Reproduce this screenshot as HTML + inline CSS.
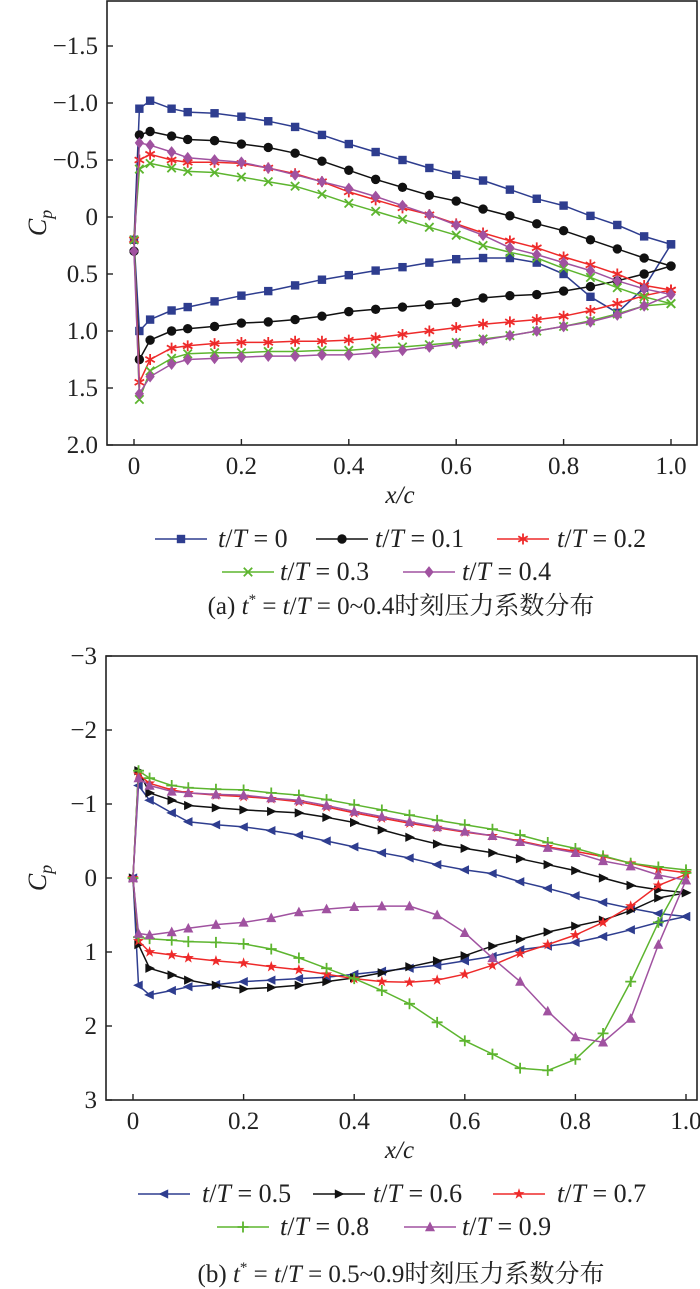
<!DOCTYPE html>
<html><head><meta charset="utf-8">
<style>
body{margin:0;background:#fff;}
svg{display:block;}
text,tspan{font-family:"Liberation Serif","Times New Roman","Noto Serif CJK SC",serif;}
</style></head>
<body>
<svg id="chart" width="700" height="1289" viewBox="0 0 700 1289" xmlns="http://www.w3.org/2000/svg">
<g id="pa"></g>
<g id="pb"></g>
</svg>
<script>
const xs = [0.01,0.03,0.07,0.1,0.15,0.2,0.25,0.3,0.35,0.4,0.45,0.5,0.55,0.6,0.65,0.7,0.75,0.8,0.85,0.9,0.95,1.0];
const xTicks = [0,0.2,0.4,0.6,0.8,1.0];
const xTickLabels = ["0","0.2","0.4","0.6","0.8","1.0"];
const yTicksA = [-1.5,-1.0,-0.5,0,0.5,1.0,1.5,2.0];
const yTickLabelsA = ["\u22121.5","\u22121.0","\u22120.5","0","0.5","1.0","1.5","2.0"];
const yTicksB = [-3,-2,-1,0,1,2,3];
const yTickLabelsB = ["\u22123","\u22122","\u22121","0","1","2","3"];
const namesA = ["t/T = 0","t/T = 0.1","t/T = 0.2","t/T = 0.3","t/T = 0.4"];
const namesB = ["t/T = 0.5","t/T = 0.6","t/T = 0.7","t/T = 0.8","t/T = 0.9"];
// panel a
const leA = [0.2,0.3,0.2,0.2,0.3];
const up0 = [-0.95,-1.02,-0.95,-0.92,-0.91,-0.88,-0.84,-0.79,-0.72,-0.64,-0.57,-0.5,-0.43,-0.37,-0.32,-0.24,-0.16,-0.1,-0.01,0.07,0.17,0.24];
const lo0 = [1.0,0.9,0.82,0.79,0.74,0.69,0.65,0.6,0.55,0.51,0.47,0.44,0.4,0.37,0.36,0.36,0.4,0.5,0.7,0.84,0.62,0.24];
const up1 = [-0.72,-0.75,-0.71,-0.68,-0.67,-0.64,-0.61,-0.56,-0.49,-0.41,-0.33,-0.26,-0.19,-0.14,-0.07,-0.01,0.06,0.12,0.2,0.28,0.36,0.43];
const lo1 = [1.25,1.08,1.0,0.98,0.96,0.93,0.92,0.9,0.87,0.83,0.81,0.79,0.77,0.75,0.71,0.69,0.68,0.65,0.61,0.56,0.5,0.43];
const up2 = [-0.5,-0.55,-0.5,-0.48,-0.48,-0.47,-0.43,-0.38,-0.31,-0.22,-0.15,-0.08,-0.02,0.06,0.14,0.21,0.27,0.35,0.42,0.5,0.6,0.64];
const lo2 = [1.45,1.25,1.15,1.13,1.11,1.1,1.1,1.09,1.09,1.08,1.06,1.03,1.0,0.97,0.94,0.92,0.9,0.87,0.82,0.76,0.69,0.64];
const up3 = [-0.42,-0.47,-0.43,-0.4,-0.39,-0.35,-0.31,-0.27,-0.2,-0.12,-0.05,0.02,0.09,0.16,0.25,0.31,0.36,0.45,0.53,0.62,0.7,0.76];
const lo3 = [1.6,1.35,1.24,1.2,1.19,1.19,1.18,1.18,1.17,1.17,1.15,1.14,1.12,1.1,1.07,1.04,1.0,0.96,0.91,0.85,0.78,0.76];
const up4 = [-0.65,-0.63,-0.57,-0.52,-0.5,-0.48,-0.43,-0.37,-0.31,-0.25,-0.18,-0.1,-0.02,0.07,0.16,0.27,0.33,0.4,0.47,0.56,0.63,0.68];
const lo4 = [1.55,1.4,1.29,1.25,1.24,1.23,1.22,1.22,1.21,1.21,1.19,1.17,1.14,1.11,1.08,1.04,1.0,0.96,0.92,0.86,0.78,0.68];
// panel b
const leB = [0.0,0.0,0.0,0.0,0.0];
const up5 = [-1.25,-1.05,-0.88,-0.76,-0.72,-0.69,-0.64,-0.58,-0.5,-0.42,-0.34,-0.27,-0.18,-0.11,-0.06,0.05,0.14,0.24,0.33,0.41,0.48,0.52];
const lo5 = [1.45,1.58,1.52,1.47,1.44,1.4,1.38,1.36,1.34,1.3,1.26,1.22,1.18,1.12,1.06,0.97,0.92,0.87,0.79,0.7,0.6,0.52];
const up6 = [-1.45,-1.15,-1.05,-0.98,-0.95,-0.92,-0.9,-0.88,-0.82,-0.75,-0.65,-0.55,-0.46,-0.4,-0.34,-0.26,-0.18,-0.1,0.0,0.1,0.16,0.2];
const lo6 = [0.9,1.22,1.31,1.38,1.45,1.5,1.48,1.45,1.4,1.35,1.28,1.2,1.12,1.05,0.92,0.83,0.73,0.65,0.57,0.44,0.27,0.2];
const up7 = [-1.4,-1.28,-1.19,-1.15,-1.12,-1.1,-1.07,-1.03,-0.96,-0.88,-0.81,-0.74,-0.68,-0.62,-0.57,-0.5,-0.42,-0.36,-0.29,-0.2,-0.12,-0.07];
const lo7 = [0.85,1.0,1.04,1.08,1.12,1.15,1.2,1.24,1.3,1.36,1.4,1.41,1.38,1.3,1.18,1.02,0.9,0.77,0.6,0.38,0.1,-0.05];
const up8 = [-1.45,-1.35,-1.25,-1.22,-1.2,-1.19,-1.15,-1.12,-1.06,-0.99,-0.92,-0.85,-0.78,-0.72,-0.66,-0.58,-0.48,-0.4,-0.3,-0.2,-0.15,-0.11];
const lo8 = [0.8,0.82,0.84,0.86,0.87,0.89,0.96,1.08,1.22,1.36,1.52,1.7,1.95,2.2,2.38,2.57,2.6,2.45,2.1,1.4,0.6,-0.07];
const up9 = [-1.35,-1.25,-1.17,-1.15,-1.13,-1.12,-1.08,-1.05,-0.98,-0.9,-0.83,-0.76,-0.69,-0.63,-0.57,-0.49,-0.41,-0.34,-0.23,-0.16,-0.04,0.03];
const lo9 = [0.75,0.77,0.73,0.68,0.63,0.6,0.54,0.46,0.42,0.39,0.38,0.38,0.5,0.74,1.08,1.4,1.8,2.15,2.22,1.9,0.9,0.03];

const colors = ["#2e3d8f","#111111","#ee2a2a","#5db52f","#a052a0"];
const NS = "http://www.w3.org/2000/svg";
function mk(parent, tag, attrs){ const e=document.createElementNS(NS,tag); for(const k in attrs) e.setAttribute(k,attrs[k]); parent.appendChild(e); return e; }

function marker(g, type, cx, cy, col, s){
  let e;
  if(type==="square") e=mk(g,"rect",{x:cx-s,y:cy-s,width:2*s,height:2*s,fill:col});
  else if(type==="circle") e=mk(g,"circle",{cx:cx,cy:cy,r:s+0.5,fill:col});
  else if(type==="star6"){ let d=""; for(let i=0;i<3;i++){const a=i*Math.PI/3+Math.PI/2; d+=`M${cx+s*1.3*Math.cos(a)},${cy+s*1.3*Math.sin(a)}L${cx-s*1.3*Math.cos(a)},${cy-s*1.3*Math.sin(a)}`;} e=mk(g,"path",{d:d,stroke:col,"stroke-width":1.8,fill:"none"}); }
  else if(type==="x"){ e=mk(g,"path",{d:`M${cx-s},${cy-s}L${cx+s},${cy+s}M${cx-s},${cy+s}L${cx+s},${cy-s}`,stroke:col,"stroke-width":1.8,fill:"none"}); }
  else if(type==="diamond") e=mk(g,"path",{d:`M${cx},${cy-s*1.4}L${cx+s*1.1},${cy}L${cx},${cy+s*1.4}L${cx-s*1.1},${cy}Z`,fill:col});
  else if(type==="tleft") e=mk(g,"path",{d:`M${cx-s*1.3},${cy}L${cx+s},${cy-s*1.1}L${cx+s},${cy+s*1.1}Z`,fill:col});
  else if(type==="tright") e=mk(g,"path",{d:`M${cx+s*1.3},${cy}L${cx-s},${cy-s*1.1}L${cx-s},${cy+s*1.1}Z`,fill:col});
  else if(type==="star5"){ let d=""; for(let i=0;i<10;i++){const r=i%2?s*0.55:s*1.4; const a=-Math.PI/2+i*Math.PI/5; d+=(i?"L":"M")+(cx+r*Math.cos(a))+","+(cy+r*Math.sin(a));} e=mk(g,"path",{d:d+"Z",fill:col}); }
  else if(type==="plus"){ e=mk(g,"path",{d:`M${cx-s*1.3},${cy}L${cx+s*1.3},${cy}M${cx},${cy-s*1.3}L${cx},${cy+s*1.3}`,stroke:col,"stroke-width":1.8,fill:"none"}); }
  else if(type==="tup") e=mk(g,"path",{d:`M${cx},${cy-s*1.3}L${cx+s*1.2},${cy+s}L${cx-s*1.2},${cy+s}Z`,fill:col});
  
  
  return e;
}

function panel(root, cfg){
  const X = v => cfg.x0 + (cfg.x1 - cfg.x0) * v;
  const Y = v => cfg.yTop + (v - cfg.vTop) * cfg.ppu;
  const frame = mk(root,"rect",{x:cfg.L,y:cfg.T,width:cfg.R-cfg.L,height:cfg.B-cfg.T,fill:"none",stroke:"#222","stroke-width":1.6});
  
  
  xTicks.forEach((t,i)=>{
    const l=mk(root,"line",{x1:X(t),x2:X(t),y1:cfg.B,y2:cfg.B-6,stroke:"#222","stroke-width":1.4});
    
    
    const tx=mk(root,"text",{x:X(t),y:cfg.B+29,"font-size":25,"text-anchor":"middle",fill:"#222"});
    tx.textContent=xTickLabels[i];
    
    
  });
  cfg.yTicks.forEach((t,i)=>{
    const l=mk(root,"line",{x1:cfg.L,x2:cfg.L+6,y1:Y(t),y2:Y(t),stroke:"#222","stroke-width":1.4});
    
    
    const tx=mk(root,"text",{x:cfg.L-9,y:Y(t)+8,"font-size":25,"text-anchor":"end",fill:"#222"});
    tx.textContent=cfg.yLabels[i];
    
    
  });
  const xl=mk(root,"text",{x:(cfg.L+cfg.R)/2-2,y:cfg.B+58,"font-size":25,"font-style":"italic","text-anchor":"middle",fill:"#222"});
  xl.textContent="x/c";
  
  
  const yl=mk(root,"text",{transform:`translate(46,${(cfg.T+cfg.B)/2}) rotate(-90)`,"font-size":26,"font-style":"italic","text-anchor":"middle",fill:"#222"});
  yl.innerHTML='C<tspan dy="6" font-size="18">p</tspan>';
  
  
  const clip=mk(root,"g",{});
  cfg.series.forEach((s,k)=>{
    const g=mk(clip,"g",{});
    
    
    const col=colors[k];
    let pts=[];
    for(let i=s.up.length-1;i>=0;i--) pts.push([X(xs[i]),Y(s.up[i])]);
    pts.push([X(0),Y(cfg.le[k])]);
    for(let i=0;i<s.lo.length;i++) pts.push([X(xs[i]),Y(s.lo[i])]);
    const p=mk(g,"path",{d:pts.map((q,i)=>(i?"L":"M")+q[0].toFixed(1)+","+q[1].toFixed(1)).join(""),fill:"none",stroke:col,"stroke-width":1.5,"stroke-linejoin":"round"});
    
    
    pts.forEach(q=>marker(g,cfg.markers[k],q[0],q[1],col,4.2));
  });
  cfg.legend.forEach((e,k)=>{
    const g=mk(root,"g",{});
    
    
    mk(g,"line",{x1:e[0],x2:e[0]+52,y1:e[2]-8,y2:e[2]-8,stroke:colors[k],"stroke-width":1.6});
    marker(g,cfg.markers[k],e[0]+26,e[2]-8,colors[k],4.2);
    const tx=mk(g,"text",{x:e[1],y:e[2],"font-size":26,fill:"#222"});
    const parts=cfg.names[k].split(" = ");
    tx.innerHTML='<tspan font-style="italic">t</tspan>/<tspan font-style="italic">T</tspan> = '+parts[1];
  });
  const cap=mk(root,"text",{x:401,y:cfg.capY,"font-size":25,"text-anchor":"middle",fill:"#222"});
  cap.innerHTML=cfg.capPre+' <tspan font-style="italic">t</tspan><tspan font-size="15" dy="-10">*</tspan><tspan dy="10"> = </tspan><tspan font-style="italic">t</tspan>/<tspan font-style="italic">T</tspan> = '+cfg.capPost;
  
  
}

panel(document.getElementById('pa'),{
  L:107,T:1,R:697,B:445,x0:134,x1:671,yTop:217,vTop:0,ppu:114,
  yTicks:yTicksA,yLabels:yTickLabelsA,le:leA,names:namesA,
  series:[{up:up0,lo:lo0},{up:up1,lo:lo1},{up:up2,lo:lo2},{up:up3,lo:lo3},{up:up4,lo:lo4}],
  markers:["square","circle","star6","x","diamond"],
  legend:[[155,218,547],[316,375,547],[497,557,547],[222,280,580],[403,462,580]],
  capY:614,capPre:"(a)",capPost:"0~0.4时刻压力系数分布"
});
panel(document.getElementById('pb'),{
  L:106,T:656,R:697,B:1100,x0:133,x1:686,yTop:878,vTop:0,ppu:74,
  yTicks:yTicksB,yLabels:yTickLabelsB,le:leB,names:namesB,
  series:[{up:up5,lo:lo5},{up:up6,lo:lo6},{up:up7,lo:lo7},{up:up8,lo:lo8},{up:up9,lo:lo9}],
  markers:["tleft","tright","star5","plus","tup"],
  legend:[[138,202,1202],[313,373,1202],[493,557,1202],[217,280,1235],[404,462,1235]],
  capY:1282,capPre:"(b)",capPost:"0.5~0.9时刻压力系数分布"
});
</script>
</body></html>
